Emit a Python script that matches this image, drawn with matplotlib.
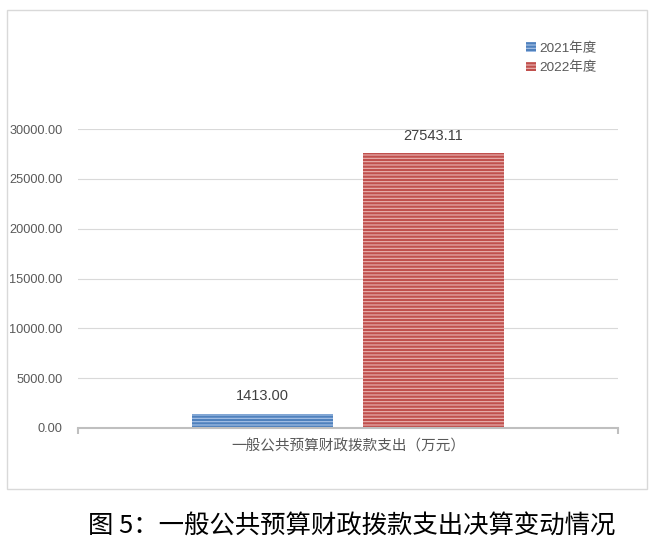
import matplotlib
matplotlib.use('Agg')
import matplotlib.pyplot as plt
from matplotlib.patches import Rectangle

plt.rcParams['font.family'] = ['Liberation Sans', 'Noto Sans CJK SC', 'DejaVu Sans']
plt.rcParams['hatch.linewidth'] = 0.8

# data
years = ['2021年度', '2022年度']
values = [1413.00, 27543.11]
category = '一般公共预算财政拨款支出（万元）'
yticks = [0, 5000, 10000, 15000, 20000, 25000, 30000]
caption = '图 5：一般公共预算财政拨款支出决算变动情况'

bar_colors = ['#4f81bd', '#c0504d']
hatch_colors = ['#a9c4e8', '#eab4b2']

W, H = 659, 549
fig = plt.figure(figsize=(W / 100, H / 100), dpi=100)

# chart border
fig.patches.append(Rectangle((7 / W, 1 - 489 / H), 640 / W, 479 / H,
                             transform=fig.transFigure, fill=False,
                             edgecolor='#d9d9d9', linewidth=1))

ax = fig.add_axes([78 / W, 1 - 428 / H, 540 / W, 299 / H])
ax.set_xlim(-0.5, 0.5)
ax.set_ylim(0, 30000)

width = 141 / 540
offsets = [-0.158, 0.158]
for i, v in enumerate(values):
    ax.bar(offsets[i], v, width=width, color=bar_colors[i],
           edgecolor=hatch_colors[i], linewidth=0, hatch='-----',
           label=years[i], zorder=3)
    ax.text(offsets[i], v + 1100, f'{v:.2f}', ha='center', va='bottom',
            fontsize=10.5, color='#404040')

ax.set_yticks(yticks)
ax.set_yticklabels([f'{t:.2f}' for t in yticks], fontsize=9.2, color='#595959')
ax.tick_params(axis='y', length=0, pad=11)
ax.grid(axis='y', color='#d9d9d9', linewidth=0.8, zorder=0)
ax.set_xticks([-0.5, 0.5])
ax.set_xticklabels(['', ''])
ax.tick_params(axis='x', length=4, width=1.5, color='#bfbfbf')
for s in ['top', 'right', 'left']:
    ax.spines[s].set_visible(False)
ax.spines['bottom'].set_color('#bfbfbf')
ax.spines['bottom'].set_linewidth(1.5)
ax.spines['bottom'].set_zorder(4)

ax.text(0.5, -0.062, category, transform=ax.transAxes, ha='center', va='center',
        fontsize=10.5, color='#595959')

leg = ax.legend(loc='upper left', bbox_to_anchor=(514 / W, 1 - 30 / H),
                bbox_transform=fig.transFigure, frameon=False, fontsize=9.7,
                handlelength=0.7, handleheight=0.7, handletextpad=0.3,
                labelspacing=0.5, labelcolor='#595959')

fig.text(352 / W, 1 - 527 / H, caption, ha='center', va='center',
         fontsize=18.3, color='#000000', family=['Noto Sans CJK SC', 'DejaVu Sans'],
         fontweight='light')

fig.savefig('out.png', dpi=100)
